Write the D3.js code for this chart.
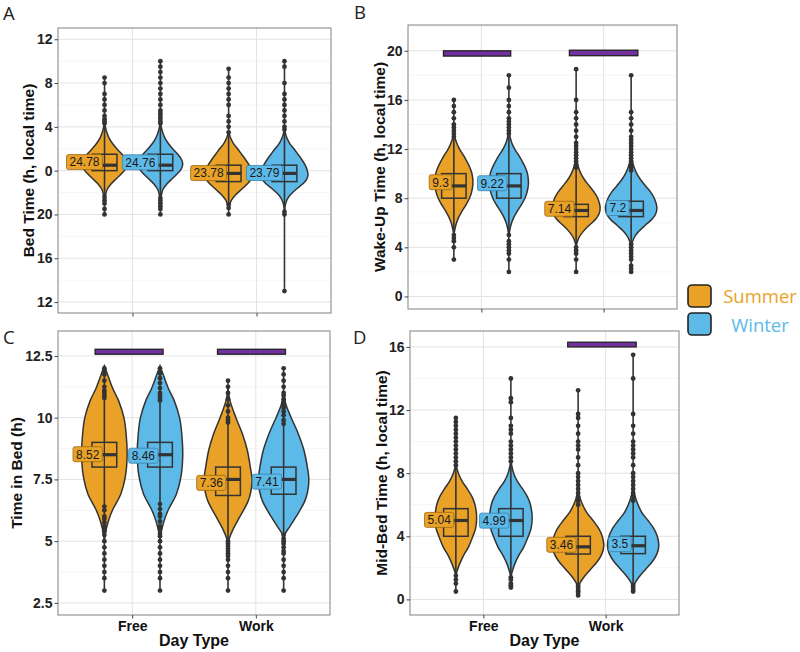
<!DOCTYPE html>
<html><head><meta charset="utf-8">
<script src="https://cdn.jsdelivr.net/npm/d3@7"></script>
<style>body{margin:0;background:#fff} svg{display:block}</style>
</head><body>
<svg id="chart" width="800" height="652"></svg>
<script>
// ---------------- DATA ----------------
const dayTypes = ["Free", "Work"];
const seasons = ["Summer", "Winter"];
// group order in every panel: Free-Summer, Free-Winter, Work-Summer, Work-Winter

// Panel A : Bed time (hours past midnight of previous day; 24 = 0h)
const bedTicks = [12, 16, 20, 24, 28, 32, 36];
const bedTickLabels = ["12", "16", "20", "0", "4", "8", "12"];
const bedMeans = [24.78, 24.76, 23.78, 23.79];
const bedBoxes = [[24.0, 24.5, 25.5], [24.0, 24.5, 25.5], [23.0, 23.75, 24.5], [23.0, 23.75, 24.5]];
const bedPeaks = [0.9, 0.9, 0.95, 0.95];
const bedOutliers = [
  [32.5, 32.0, 31.0, 30.5, 30.0, 29.5, 29.0, 28.7, 28.5, 28.3, 21.6, 21.3, 21.0, 20.5, 20.0],
  [34.0, 33.5, 33.0, 32.5, 32.0, 31.5, 31.0, 30.5, 30.0, 29.5, 29.25, 29.0, 28.75, 28.5, 28.3, 21.5, 21.25, 21.0, 20.75, 20.5, 20.0],
  [33.3, 32.5, 32.0, 31.5, 31.0, 30.5, 30.0, 29.0, 28.5, 28.0, 27.5, 20.9, 20.6, 20.0],
  [34.0, 33.5, 32.0, 31.0, 30.5, 30.0, 29.5, 29.0, 28.5, 28.0, 27.75, 20.25, 20.0, 13.0]
];
const bedViolins = [
  [[28.4,0],[28.0,0.04],[27.5,0.1],[27,0.2],[26.5,0.35],[26,0.55],[25.5,0.78],[25,0.95],[24.6,1.0],[24.2,0.95],[23.8,0.8],[23.3,0.55],[22.8,0.3],[22.3,0.12],[21.8,0.05],[21.3,0]],
  [[28.4,0],[28.0,0.04],[27.5,0.1],[27,0.2],[26.5,0.35],[26,0.55],[25.5,0.78],[25,0.95],[24.6,1.0],[24.2,0.95],[23.8,0.8],[23.3,0.55],[22.8,0.3],[22.3,0.12],[21.8,0.05],[21.3,0]],
  [[27.6,0],[27,0.08],[26.5,0.2],[26,0.38],[25.5,0.55],[25,0.72],[24.5,0.87],[24,0.97],[23.6,1.0],[23.2,0.95],[22.8,0.8],[22.3,0.55],[21.8,0.3],[21.3,0.12],[20.8,0.03],[20.5,0]],
  [[27.8,0],[27,0.1],[26.5,0.22],[26,0.4],[25.5,0.57],[25,0.74],[24.5,0.88],[24,0.97],[23.6,1.0],[23.2,0.94],[22.8,0.78],[22.3,0.5],[21.8,0.25],[21.3,0.1],[20.8,0.03],[20.3,0]]
];
const bedSig = [];

// Panel B : Wake-up time
const wakeTicks = [0, 4, 8, 12, 16, 20];
const wakeTickLabels = ["0", "4", "8", "12", "16", "20"];
const wakeMeans = [9.3, 9.22, 7.14, 7.2];
const wakeBoxes = [[8.0, 9.0, 10.0], [8.0, 9.0, 10.0], [6.5, 7.0, 7.5], [6.5, 7.0, 7.75]];
const wakePeaks = [0.78, 0.8, 0.98, 1.05];
const wakeOutliers = [
  [16.0, 15.5, 15.0, 14.5, 14.0, 13.75, 13.5, 13.25, 13.0, 5.0, 4.75, 4.5, 4.0, 3.0],
  [18.0, 17.0, 16.0, 15.5, 15.0, 14.5, 14.25, 14.0, 13.75, 13.5, 13.25, 5.0, 4.5, 4.25, 4.0, 3.75, 3.5, 3.0, 2.0],
  [18.5, 16.0, 15.0, 14.5, 14.0, 13.5, 13.0, 12.5, 12.25, 12.0, 11.75, 11.5, 11.25, 11.0, 10.75, 10.5, 4.0, 3.75, 3.5, 3.0, 2.0],
  [18.0, 15.0, 14.5, 14.0, 13.5, 13.0, 12.75, 12.5, 12.25, 12.0, 11.75, 11.5, 11.25, 11.0, 10.75, 10.5, 10.25, 4.25, 4.0, 3.75, 3.5, 3.25, 3.0, 2.5, 2.25, 2.0]
];
const wakeViolins = [
  [[13.2,0],[12.5,0.15],[12,0.3],[11.5,0.5],[11,0.68],[10.5,0.84],[10,0.95],[9.2,1.0],[8.5,0.93],[8,0.82],[7.5,0.65],[7,0.45],[6.5,0.27],[6,0.14],[5.5,0.06],[5.0,0]],
  [[13.4,0],[12.5,0.15],[12,0.3],[11.5,0.5],[11,0.68],[10.5,0.84],[10,0.95],[9.2,1.0],[8.5,0.93],[8,0.82],[7.5,0.65],[7,0.45],[6.5,0.27],[6,0.14],[5.5,0.06],[4.9,0]],
  [[12,0],[11,0.04],[10.5,0.1],[10,0.2],[9.5,0.35],[9,0.55],[8.5,0.75],[8,0.9],[7.3,1.0],[6.8,0.97],[6.3,0.82],[5.8,0.55],[5.3,0.3],[4.8,0.12],[4.3,0.03],[4.0,0]],
  [[12.4,0],[11,0.05],[10.5,0.12],[10,0.22],[9.5,0.37],[9,0.56],[8.5,0.76],[8,0.9],[7.3,1.0],[6.8,0.97],[6.3,0.82],[5.8,0.55],[5.3,0.3],[4.8,0.12],[4.3,0.03],[4.0,0]]
];
const wakeSig = [[0.69, 1.24, 19.57, 20.0], [1.72, 2.28, 19.6, 20.05]];

// Panel C : Time in bed
const tibTicks = [2.5, 5, 7.5, 10, 12.5];
const tibTickLabels = ["2.5", "5", "7.5", "10", "12.5"];
const tibMeans = [8.52, 8.46, 7.36, 7.41];
const tibBoxes = [[8.0, 8.5, 9.0], [8.0, 8.5, 9.0], [6.85, 7.5, 8.0], [6.9, 7.5, 8.0]];
const tibPeaks = [0.92, 0.92, 0.97, 1.02];
const tibOutliers = [
  [12.0, 11.9, 11.75, 11.5, 11.25, 11.1, 11.0, 10.9, 10.8, 6.4, 6.25, 6.0, 5.9, 5.75, 5.6, 5.5, 5.4, 5.25, 5.0, 4.75, 4.5, 4.25, 4.0, 3.75, 3.5, 3.0],
  [12.0, 11.8, 11.6, 11.4, 11.2, 11.0, 10.9, 10.8, 10.7, 6.5, 6.3, 6.1, 6.0, 5.8, 5.6, 5.5, 5.3, 5.2, 5.0, 4.75, 4.5, 4.25, 4.0, 3.75, 3.5, 3.0],
  [11.5, 11.25, 11.0, 10.75, 10.5, 10.25, 10.0, 9.9, 9.8, 5.0, 4.9, 4.8, 4.7, 4.6, 4.5, 4.4, 4.25, 4.0, 3.75, 3.5, 3.0],
  [12.0, 11.75, 11.5, 11.25, 11.0, 10.9, 10.75, 10.6, 10.5, 10.4, 10.25, 10.1, 9.9, 9.75, 5.25, 5.1, 5.0, 4.9, 4.75, 4.6, 4.5, 4.25, 4.0, 3.75, 3.5, 3.0]
];
const tibViolins = [
  [[12.1,0],[11.8,0.12],[11.2,0.36],[10.7,0.62],[10,0.86],[9.3,0.96],[8.5,1.0],[7.6,0.92],[6.9,0.72],[6.3,0.38],[5.8,0.17],[5.3,0.04],[5.0,0]],
  [[12.1,0],[11.8,0.12],[11.2,0.36],[10.7,0.62],[10,0.86],[9.3,0.96],[8.5,1.0],[7.6,0.92],[6.9,0.72],[6.3,0.38],[5.8,0.17],[5.3,0.04],[5.0,0]],
  [[11.2,0],[10.7,0.08],[10,0.33],[9.35,0.6],[8.7,0.8],[8,0.93],[7.5,1.0],[7,0.95],[6.6,0.83],[6,0.5],[5.5,0.22],[5.1,0.05],[4.9,0]],
  [[11.0,0],[10.5,0.1],[10,0.3],[9.35,0.58],[8.7,0.8],[8,0.94],[7.5,1.0],[7,0.95],[6.6,0.83],[6,0.5],[5.6,0.25],[5.3,0.06],[5.1,0]]
];
const tibSig = [[0.70, 1.25, 12.57, 12.77], [1.69, 2.24, 12.57, 12.77]];

// Panel D : Mid-bed time
const midTicks = [0, 4, 8, 12, 16];
const midTickLabels = ["0", "4", "8", "12", "16"];
const midMeans = [5.04, 4.99, 3.46, 3.5];
const midBoxes = [[4.0, 5.0, 5.75], [4.0, 5.0, 5.75], [2.875, 3.33, 4.0], [2.9, 3.4, 4.0]];
const midPeaks = [0.85, 0.87, 1.05, 1.05];
const midOutliers = [
  [11.5, 11.25, 11.0, 10.75, 10.5, 10.25, 10.0, 9.75, 9.5, 9.25, 9.0, 8.75, 8.5, 1.5, 1.25, 1.0, 0.5],
  [14.0, 12.75, 12.5, 11.5, 11.0, 10.75, 10.5, 10.0, 9.75, 9.5, 9.25, 9.0, 8.75, 1.4, 1.25, 1.0, 0.9, 0.75],
  [13.25, 11.75, 11.5, 11.0, 10.5, 10.0, 9.75, 9.5, 9.0, 8.5, 8.0, 7.75, 7.5, 7.25, 7.0, 6.75, 6.5, 6.25, 6.0, 0.9, 0.75, 0.6, 0.5, 0.4, 0.25],
  [15.5, 14.0, 11.75, 11.0, 10.5, 10.0, 9.75, 9.5, 9.25, 9.0, 8.5, 8.0, 7.75, 7.5, 7.25, 7.0, 6.75, 6.5, 6.25, 0.9, 0.75, 0.6, 0.5]
];
const midViolins = [
  [[8.6,0],[8,0.12],[7.5,0.3],[7,0.55],[6.5,0.78],[6,0.92],[5.2,1.0],[4.5,0.95],[4,0.82],[3.3,0.6],[2.8,0.38],[2.3,0.2],[1.8,0.06],[1.5,0]],
  [[8.8,0],[8,0.13],[7.5,0.3],[7,0.55],[6.5,0.78],[6,0.92],[5.2,1.0],[4.5,0.95],[4,0.82],[3.3,0.6],[2.8,0.38],[2.3,0.2],[1.8,0.07],[1.4,0]],
  [[6.9,0],[6.2,0.12],[5.5,0.34],[5,0.58],[4.5,0.8],[4,0.94],[3.4,1.0],[2.9,0.93],[2.4,0.75],[1.9,0.48],[1.4,0.22],[1.0,0.06],[0.7,0]],
  [[7.1,0],[6.3,0.12],[5.5,0.34],[5,0.58],[4.5,0.8],[4,0.94],[3.4,1.0],[2.9,0.93],[2.4,0.75],[1.9,0.48],[1.4,0.22],[1.0,0.06],[0.7,0]]
];
const midSig = [[1.69, 2.25, 16.0, 16.3]];

// ---------------- STYLE / LAYOUT ----------------
const seasonColor = { Summer: "#E9A227", Winter: "#5DB9E8" };
const labelStroke = { Summer: "#9a6a12", Winter: "#3a82ad" };
const panels = [
  { letter: "A", title: "Bed Time (h, local time)", ticks: bedTicks, tickLabels: bedTickLabels, means: bedMeans, boxes: bedBoxes, peaks: bedPeaks,
    outliers: bedOutliers, violins: bedViolins, sig: bedSig, domain: [11.0, 37.03], x0: 58, x1: 331, y0: 28, y1: 313,
    titleX: 28, letterX: 3, letterY: 20, step: 4, showX: false },
  { letter: "B", title: "Wake-Up Time (h, local time)", ticks: wakeTicks, tickLabels: wakeTickLabels, means: wakeMeans, boxes: wakeBoxes, peaks: wakePeaks,
    outliers: wakeOutliers, violins: wakeViolins, sig: wakeSig, domain: [-1.02, 22.1], x0: 408, x1: 677, y0: 25, y1: 309,
    titleX: 379, letterX: 354, letterY: 19, step: 4, showX: false },
  { letter: "C", title: "Time in Bed (h)", ticks: tibTicks, tickLabels: tibTickLabels, means: tibMeans, boxes: tibBoxes, peaks: tibPeaks,
    outliers: tibOutliers, violins: tibViolins, sig: tibSig, domain: [2.01, 13.51], x0: 58, x1: 330, y0: 331, y1: 615,
    titleX: 16, letterX: 3, letterY: 344, step: 2.5, showX: true },
  { letter: "D", title: "Mid-Bed Time (h, local time)", ticks: midTicks, tickLabels: midTickLabels, means: midMeans, boxes: midBoxes, peaks: midPeaks,
    outliers: midOutliers, violins: midViolins, sig: midSig, domain: [-0.99, 17.01], x0: 410, x1: 679, y0: 331, y1: 615,
    titleX: 381, letterX: 353, letterY: 344, step: 4, showX: true }
];

const svg = d3.select("#chart");
const dodge = 0.225, halfW = 0.2, boxHalf = 0.1;

panels.forEach(p => {
  const x = d3.scaleLinear().domain([0.4, 2.6]).range([p.x0, p.x1]);
  const y = d3.scaleLinear().domain(p.domain).range([p.y1, p.y0]);
  const unit = x(1) - x(0);
  const g = svg.append("g");

  // grid
  const minor = [];
  for (let v = p.ticks[0] - p.step / 2; v <= p.domain[1]; v += p.step) if (v >= p.domain[0]) minor.push(v);
  g.selectAll(".minor").data(minor).enter().append("line")
    .attr("x1", p.x0).attr("x2", p.x1).attr("y1", d => y(d)).attr("y2", d => y(d))
    .attr("stroke", "#f0f0f0").attr("stroke-width", 0.7);
  g.selectAll(".major").data(p.ticks).enter().append("line")
    .attr("x1", p.x0).attr("x2", p.x1).attr("y1", d => y(d)).attr("y2", d => y(d))
    .attr("stroke", "#e3e3e3").attr("stroke-width", 1);
  g.selectAll(".vmajor").data([1, 2]).enter().append("line")
    .attr("x1", d => x(d)).attr("x2", d => x(d)).attr("y1", p.y0).attr("y2", p.y1)
    .attr("stroke", "#e3e3e3").attr("stroke-width", 1);

  // significance bars
  g.selectAll(".sig").data(p.sig).enter().append("rect")
    .attr("x", d => x(d[0])).attr("width", d => x(d[1]) - x(d[0]))
    .attr("y", d => y(d[3])).attr("height", d => y(d[2]) - y(d[3]))
    .attr("fill", "#7030A0").attr("stroke", "#222").attr("stroke-width", 1.3);

  // groups
  const groups = [];
  dayTypes.forEach((dt, i) => seasons.forEach((s, j) => groups.push({ dt, s, pos: i + 1 + (j === 0 ? -dodge : dodge) })));

  groups.forEach((gr, k) => {
    const cx = x(gr.pos);
    const prof = p.violins[k];
    const peak = p.peaks[k];
    const area = d3.area()
      .y(d => y(d[0]))
      .x0(d => cx - d[1] * peak * halfW * unit)
      .x1(d => cx + d[1] * peak * halfW * unit)
      .curve(d3.curveCatmullRom.alpha(0.5));
    g.append("path").attr("d", area(prof))
      .attr("fill", seasonColor[gr.s]).attr("stroke", "#333").attr("stroke-width", 1.5);

    const allVals = p.outliers[k].concat(prof.map(d => d[0]));
    const lo = d3.min(allVals), hi = d3.max(allVals);
    g.append("line").attr("x1", cx).attr("x2", cx).attr("y1", y(lo)).attr("y2", y(hi))
      .attr("stroke", "#333").attr("stroke-width", 1.6);

    const b = p.boxes[k];
    g.append("rect").attr("x", cx - boxHalf * unit).attr("width", 2 * boxHalf * unit)
      .attr("y", y(b[2])).attr("height", y(b[0]) - y(b[2]))
      .attr("fill", seasonColor[gr.s]).attr("stroke", "#333").attr("stroke-width", 1.5);
    g.append("line").attr("x1", cx - boxHalf * unit).attr("x2", cx + boxHalf * unit)
      .attr("y1", y(b[1])).attr("y2", y(b[1])).attr("stroke", "#333").attr("stroke-width", 3.2);
    g.append("line").attr("x1", cx).attr("x2", cx).attr("y1", y(b[2])).attr("y2", y(b[0]))
      .attr("stroke", "#333").attr("stroke-width", 1.3);

    g.selectAll(null).data(p.outliers[k]).enter().append("circle")
      .attr("cx", cx).attr("cy", d => y(d)).attr("r", 2.4).attr("fill", "#333");

    // mean label
    const lg = g.append("g");
    const t = lg.append("text").text(p.means[k])
      .attr("font-family", "Liberation Sans, Arial, sans-serif").attr("font-size", 12)
      .attr("fill", "#1a1a1a").attr("text-anchor", "end")
      .attr("x", cx - 5).attr("y", y(p.means[k])).attr("dy", "0.36em");
    const w = t.node().getComputedTextLength();
    lg.insert("rect", "text").attr("x", cx - 5 - w - 3).attr("width", w + 6)
      .attr("y", y(p.means[k]) - 7.5).attr("height", 15).attr("rx", 2)
      .attr("fill", seasonColor[gr.s]).attr("stroke", labelStroke[gr.s]).attr("stroke-width", 0.8);
  });

  // panel border
  g.append("rect").attr("x", p.x0).attr("y", p.y0).attr("width", p.x1 - p.x0).attr("height", p.y1 - p.y0)
    .attr("fill", "none").attr("stroke", "#8c8c8c").attr("stroke-width", 1.1);

  // y axis
  const yAxis = d3.axisLeft(y).tickValues(p.ticks).tickFormat((d, i) => p.tickLabels[i]).tickSize(3.5).tickPadding(2);
  const ya = svg.append("g").attr("transform", `translate(${p.x0},0)`).call(yAxis);
  ya.select(".domain").remove();
  ya.selectAll(".tick line").attr("stroke", "#444");
  ya.selectAll(".tick text").attr("font-family", "Liberation Sans, Arial, sans-serif")
    .attr("font-weight", "bold").attr("font-size", 14).attr("fill", "#222");

  // x axis
  const xAxis = d3.axisBottom(x).tickValues([1, 2]).tickFormat((d, i) => p.showX ? dayTypes[i] : "").tickSize(3.5).tickPadding(3);
  const xa = svg.append("g").attr("transform", `translate(0,${p.y1})`).call(xAxis);
  xa.select(".domain").remove();
  xa.selectAll(".tick line").attr("stroke", "#444");
  xa.selectAll(".tick text").attr("font-family", "Liberation Sans, Arial, sans-serif")
    .attr("font-weight", "bold").attr("font-size", 14).attr("fill", "#111");

  if (p.showX) {
    svg.append("text").text("Day Type").attr("x", (p.x0 + p.x1) / 2).attr("y", 646)
      .attr("text-anchor", "middle").attr("font-family", "Liberation Sans, Arial, sans-serif")
      .attr("font-weight", "bold").attr("font-size", 16).attr("fill", "#111");
  }

  // y title
  svg.append("text").text(p.title)
    .attr("transform", `translate(${p.titleX},${(p.y0 + p.y1) / 2}) rotate(-90)`)
    .attr("text-anchor", "middle").attr("dy", "0.36em")
    .attr("font-family", "Liberation Sans, Arial, sans-serif").attr("font-weight", "bold")
    .attr("font-size", 15.5).attr("fill", "#111");

  // panel letter
  svg.append("text").text(p.letter).attr("x", p.letterX).attr("y", p.letterY)
    .attr("font-family", "Open Sans, sans-serif").attr("font-size", 18.5).attr("fill", "#222");
});

// legend
const leg = svg.append("g");
seasons.forEach((s, i) => {
  leg.append("rect").attr("x", 688).attr("y", 285 + i * 28).attr("width", 23).attr("height", 22).attr("rx", 4)
    .attr("fill", seasonColor[s]).attr("stroke", "#222").attr("stroke-width", 1.6);
  leg.append("text").text(s).attr("x", 760).attr("y", 303 + i * 28.5).attr("text-anchor", "middle")
    .attr("font-family", "Open Sans, sans-serif").attr("font-size", 18.5).attr("fill", seasonColor[s]);
});
</script>
</body></html>
